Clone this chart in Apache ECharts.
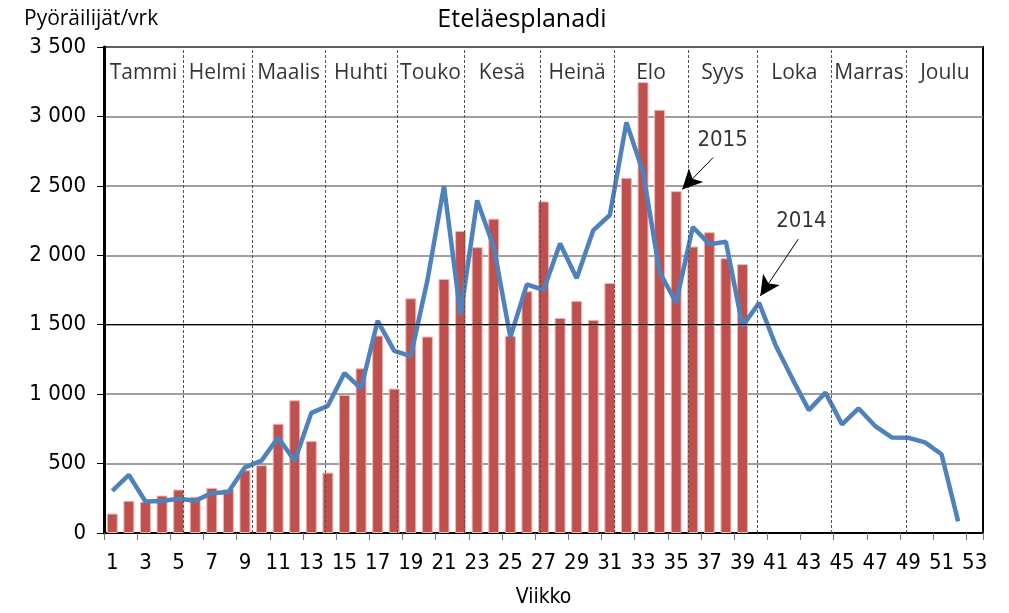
<!DOCTYPE html>
<html>
<head>
<meta charset="utf-8">
<script src="https://cdn.jsdelivr.net/npm/echarts@6/dist/echarts.min.js"></script>
<style>
  html, body { margin: 0; padding: 0; background: #fff; }
  #main { width: 1009px; height: 613px; }
</style>
</head>
<body>
<div id="main"></div>
<script>
// viikot 1..53
var weeks = [];
for (var i = 1; i <= 53; i++) weeks.push(String(i));

// 2015 pylväät (vkot 1-39)
var cyclists2015 = [140, 232, 225, 270, 313, 261, 325, 316, 452, 488,
  787, 956, 662, 435, 995, 1186, 1422, 1040, 1690, 1415,
  1829, 2175, 2058, 2264, 1420, 1741, 2388, 1549, 1671, 1535,
  1800, 2558, 3247, 3048, 2462, 2063, 2166, 1979, 1936];

// 2014 viiva (vkot 1-52)
var cyclists2014 = [304, 418, 227, 231, 246, 232, 287, 296, 473, 521,
  688, 519, 865, 916, 1152, 1040, 1528, 1312, 1274, 1820,
  2498, 1570, 2395, 2060, 1410, 1790, 1750, 2085, 1834, 2180,
  2290, 2957, 2600, 1877, 1660, 2204, 2080, 2097, 1490, 1657,
  1351, 1112, 885, 1011, 782, 897, 770, 688, 686, 653,
  567, 84];

var months = ['Tammi', 'Helmi', 'Maalis', 'Huhti', 'Touko', 'Kesä',
  'Heinä', 'Elo', 'Syys', 'Loka', 'Marras', 'Joulu'];
// kuukausirajat viikkoina
var monthBounds = [4.76, 8.93, 13.33, 17.67, 21.7, 26.3, 30.76, 35.2, 39.4, 43.85, 48.4];

(function() {
	var chart = echarts.init(document.getElementById('main'));
	var numFont = '"Liberation Sans Narrow", "DejaVu Sans Condensed", sans-serif';
	var txtFont = '"Open Sans", "DejaVu Sans", sans-serif';

	var edges = [0].concat(monthBounds, [53]);
	var monthLabels = months.map(function(m, i) {
		return { name: m, value: [(edges[i] + edges[i + 1]) / 2, 3310] };
	});

	function fmt(v) {
		if (v >= 1000) return Math.floor(v / 1000) + ' ' + String(v % 1000).padStart(3, '0');
		return String(v);
	}

	function arrow(from, to) {
		return [
			{ coord: from, symbol: 'none' },
			{ coord: to, symbol: 'arrow', symbolSize: [15, 20] }
		];
	}

	option = {
		animation: false,
		title: {
			text: 'Eteläesplanadi',
			left: 517, top: 2, textAlign: 'center',
			textStyle: { fontFamily: txtFont, fontSize: 25, fontWeight: 'normal', color: '#000' }
		},
		grid: {
			left: 104, right: 26, top: 47, bottom: 78,
			show: true, borderColor: '#000', borderWidth: 2
		},
		xAxis: [{
			type: 'category',
			data: weeks,
			name: 'Viikko',
			nameLocation: 'middle',
			nameGap: 54,
			nameTextStyle: { fontFamily: numFont, fontSize: 21, color: '#000' },
			axisLine: { lineStyle: { color: '#000', width: 2 } },
			axisTick: { show: true, length: 7, lineStyle: { color: '#777' } },
			axisLabel: { interval: 1, margin: 19, fontFamily: numFont, fontSize: 22, color: '#000' },
			splitLine: { show: false }
		}, {
			type: 'value', min: 0, max: 53, show: false
		}],
		yAxis: {
			type: 'value', min: 0, max: 3500, interval: 500,
			name: 'Pyöräilijät/vrk',
			nameLocation: 'end',
			nameGap: 17,
			nameTextStyle: { fontFamily: txtFont, fontSize: 21, color: '#000', align: 'left', padding: [0, 0, 0, -80] },
			axisLine: { show: true, lineStyle: { color: '#000', width: 3 } },
			axisTick: { show: true, length: 7, lineStyle: { color: '#000' } },
			axisLabel: { margin: 18, fontFamily: numFont, fontSize: 22, color: '#000', formatter: fmt },
			splitLine: { show: true, lineStyle: { color: '#7f7f7f', width: 1.5 } }
		},
		series: [{
			name: '2015',
			type: 'bar',
			data: cyclists2015,
			barWidth: '66%',
			itemStyle: { color: '#C0504D', borderColor: '#e8b8b6', borderWidth: 1 },
			z: 2
		}, {
			name: '2014',
			type: 'line',
			data: cyclists2014,
			symbol: 'none',
			lineStyle: { color: '#4F81BD', width: 4.5 },
			z: 3
		}, {
			name: 'kuukaudet',
			type: 'scatter',
			xAxisIndex: 1,
			data: monthLabels,
			symbolSize: 0,
			label: {
				show: true, position: 'inside', formatter: '{b}',
				fontFamily: txtFont, fontSize: 21, color: '#000'
			},
			markLine: {
				silent: true, symbol: 'none',
				label: { show: false },
				lineStyle: { color: '#555', type: [3, 2], width: 1 },
				data: monthBounds.map(function(b) { return { xAxis: b }; })
			},
			z: 1
		}, {
			name: 'viivat',
			type: 'scatter',
			xAxisIndex: 1,
			symbolSize: 0,
			itemStyle: { color: '#000' },
			data: [
				{ name: '2015', value: [37.3, 2826] },
				{ name: '2014', value: [42.05, 2245] }
			],
			label: {
				show: true, position: 'inside', formatter: '{b}',
				fontFamily: numFont, fontSize: 22, color: '#000'
			},
			markLine: {
				silent: true,
				label: { show: false },
				itemStyle: { color: '#000' },
				lineStyle: { color: '#000', type: 'solid', width: 1 },
				data: [
					arrow([36.73, 2704], [34.86, 2474]),
					arrow([41.86, 2116], [39.57, 1707]),
					[{ coord: [0, 1500], symbol: 'none' }, { coord: [53, 1500], symbol: 'none' }]
				]
			},
			z: 4
		}]
	};

	chart.setOption(option);
})();
</script>
</body>
</html>
